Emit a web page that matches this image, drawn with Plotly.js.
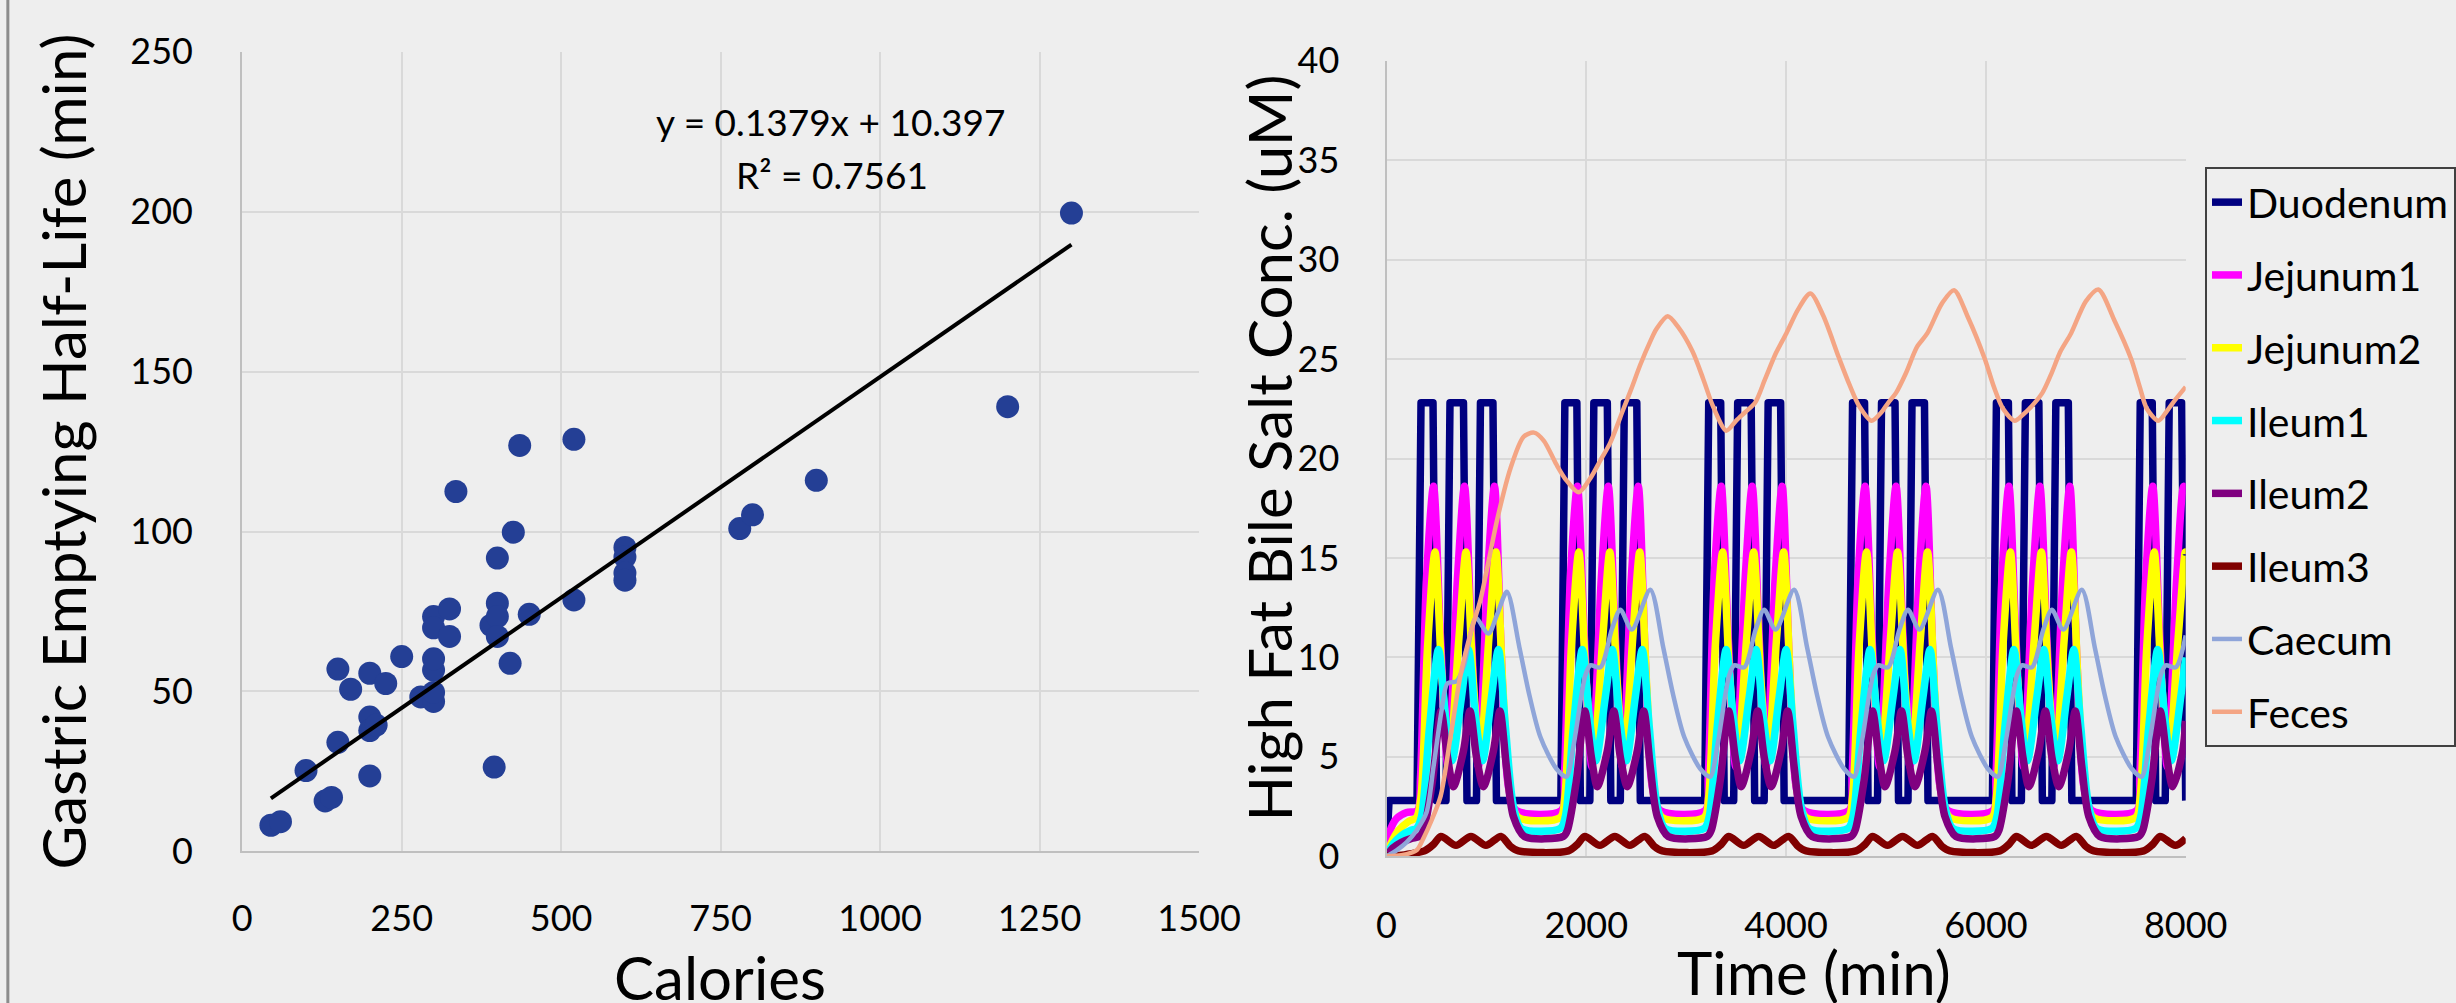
<!DOCTYPE html>
<html>
<head>
<meta charset="utf-8">
<script src="https://cdn.plot.ly/plotly-3.0.1.min.js"></script>
<style>
  html, body { margin: 0; padding: 0; background: #eeeeee; }
  #chart { width: 2456px; height: 1003px; }
  .js-line { stroke-linejoin: round !important; }
</style>
</head>
<body>
<div id="chart"></div>
<script>
// ---------------- Left chart: gastric emptying vs calories ----------------
const calories = [45, 60, 100, 130, 140, 150, 150, 170, 200, 225, 200, 200, 210, 200, 250, 280,
  300, 300, 300, 300, 300, 300, 325, 325, 335, 395, 390, 400, 400, 400, 400, 420, 425, 435, 450,
  520, 520, 600, 600, 600, 600, 780, 800, 900, 1200, 1300];
const halfLife = [8.2, 9.3, 25.3, 15.8, 16.9, 34.1, 57, 50.7, 55.7, 52.5, 42, 37.8, 39.5, 23.6, 60.9, 48.3,
  46.9, 49.7, 56.7, 60.2, 73.4, 69.9, 75.8, 67.2, 112.5, 26.4, 70.7, 77.6, 73.4, 67.2, 91.7, 58.8, 99.8, 126.9, 74.1,
  128.8, 78.6, 95, 92, 87, 84.8, 100.9, 105.2, 116, 139, 199.5];
const trendSlope = 0.1379;
const trendIntercept = 10.397;
const trendLabel = 'y = 0.1379x + 10.397';
const r2Label = 'R² = 0.7561';
const caloriesTicks = [0, 250, 500, 750, 1000, 1250, 1500];
const halfLifeTicks = [0, 50, 100, 150, 200, 250];
const leftXTitle = 'Calories';
const leftYTitle = 'Gastric Emptying Half-Life (min)';

// ---------------- Right chart: high fat bile salt concentration ----------------
const seriesNames = ['Duodenum', 'Jejunum1', 'Jejunum2', 'Ileum1', 'Ileum2', 'Ileum3', 'Caecum', 'Feces'];
const rightXTitle = 'Time (min)';
const rightYTitle = 'High Fat Bile Salt Conc. (uM)';

const duodenumT = [0, 25, 305, 345, 465, 500, 595, 635, 770, 805, 900, 940, 1065, 1100,
  1745, 1785, 1905, 1940, 2035, 2075, 2210, 2245, 2340, 2380, 2505, 2540,
  3185, 3225, 3345, 3380, 3475, 3515, 3650, 3685, 3780, 3820, 3945, 3980,
  4625, 4665, 4785, 4820, 4915, 4955, 5090, 5125, 5220, 5260, 5385, 5420,
  6065, 6105, 6225, 6260, 6355, 6395, 6530, 6565, 6660, 6700, 6825, 6860,
  7505, 7545, 7665, 7700, 7795, 7835, 7960, 7995, 8000];
const duodenumC = [0.3, 2.8, 2.8, 22.8, 22.8, 2.8, 2.8, 22.8, 22.8, 2.8, 2.8, 22.8, 22.8, 2.8,
  2.8, 22.8, 22.8, 2.8, 2.8, 22.8, 22.8, 2.8, 2.8, 22.8, 22.8, 2.8,
  2.8, 22.8, 22.8, 2.8, 2.8, 22.8, 22.8, 2.8, 2.8, 22.8, 22.8, 2.8,
  2.8, 22.8, 22.8, 2.8, 2.8, 22.8, 22.8, 2.8, 2.8, 22.8, 22.8, 2.8,
  2.8, 22.8, 22.8, 2.8, 2.8, 22.8, 22.8, 2.8, 2.8, 22.8, 22.8, 2.8,
  2.8, 22.8, 22.8, 2.8, 2.8, 22.8, 22.8, 2.8, 2.8];

const jejunum1T = [0, 30, 100, 200, 310, 340, 400, 470, 540, 615, 710, 780, 850, 920, 1010, 1080, 1150, 1220, 1300,
  1750, 1780, 1840, 1910, 1980, 2055, 2150, 2220, 2290, 2360, 2450, 2520, 2590, 2660, 2740,
  3190, 3220, 3280, 3350, 3420, 3495, 3590, 3660, 3730, 3800, 3890, 3960, 4030, 4100, 4180,
  4630, 4660, 4720, 4790, 4860, 4935, 5030, 5100, 5170, 5240, 5330, 5400, 5470, 5540, 5620,
  6070, 6100, 6160, 6230, 6300, 6375, 6470, 6540, 6610, 6680, 6770, 6840, 6910, 6980, 7060,
  7510, 7540, 7600, 7670, 7740, 7815, 7910, 7980, 8000];
const jejunum1C = [0, 1.2, 1.9, 2.2, 2.3, 4.0, 14.0, 18.6, 11.0, 4.5, 14.0, 18.6, 11.0, 4.5, 14.0, 18.6, 10.0, 3.5, 2.3,
  2.3, 4.0, 14.0, 18.6, 11.0, 4.5, 14.0, 18.6, 11.0, 4.5, 14.0, 18.6, 10.0, 3.5, 2.3,
  2.3, 4.0, 14.0, 18.6, 11.0, 4.5, 14.0, 18.6, 11.0, 4.5, 14.0, 18.6, 10.0, 3.5, 2.3,
  2.3, 4.0, 14.0, 18.6, 11.0, 4.5, 14.0, 18.6, 11.0, 4.5, 14.0, 18.6, 10.0, 3.5, 2.3,
  2.3, 4.0, 14.0, 18.6, 11.0, 4.5, 14.0, 18.6, 11.0, 4.5, 14.0, 18.6, 10.0, 3.5, 2.3,
  2.3, 4.0, 14.0, 18.6, 11.0, 4.5, 14.0, 18.6, 18.4];

const jejunum2T = [0, 40, 120, 220, 300, 345, 410, 485, 555, 630, 725, 795, 865, 935, 1025, 1095, 1165, 1240, 1320,
  1740, 1785, 1850, 1925, 1995, 2070, 2165, 2235, 2305, 2375, 2465, 2535, 2605, 2680, 2760,
  3180, 3225, 3290, 3365, 3435, 3510, 3605, 3675, 3745, 3815, 3905, 3975, 4045, 4120, 4200,
  4620, 4665, 4730, 4805, 4875, 4950, 5045, 5115, 5185, 5255, 5345, 5415, 5485, 5560, 5640,
  6060, 6105, 6170, 6245, 6315, 6390, 6485, 6555, 6625, 6695, 6785, 6855, 6925, 7000, 7080,
  7500, 7545, 7610, 7685, 7755, 7830, 7925, 7995, 8000];
const jejunum2C = [0, 0.6, 1.3, 1.75, 1.95, 3.0, 10.5, 15.3, 9.0, 5.0, 11.0, 15.3, 9.0, 5.0, 11.0, 15.3, 8.5, 3.0, 1.95,
  1.95, 3.0, 10.5, 15.3, 9.0, 5.0, 11.0, 15.3, 9.0, 5.0, 11.0, 15.3, 8.5, 3.0, 1.95,
  1.95, 3.0, 10.5, 15.3, 9.0, 5.0, 11.0, 15.3, 9.0, 5.0, 11.0, 15.3, 8.5, 3.0, 1.95,
  1.95, 3.0, 10.5, 15.3, 9.0, 5.0, 11.0, 15.3, 9.0, 5.0, 11.0, 15.3, 8.5, 3.0, 1.95,
  1.95, 3.0, 10.5, 15.3, 9.0, 5.0, 11.0, 15.3, 9.0, 5.0, 11.0, 15.3, 8.5, 3.0, 1.95,
  1.95, 3.0, 10.5, 15.3, 9.0, 5.0, 11.0, 15.3, 15.2];

const ileum1T = [0, 60, 150, 240, 300, 350, 430, 520, 590, 655, 750, 820, 890, 960, 1050, 1120, 1190, 1270, 1350,
  1740, 1790, 1870, 1960, 2030, 2095, 2190, 2260, 2330, 2400, 2490, 2560, 2630, 2710, 2790,
  3180, 3230, 3310, 3400, 3470, 3535, 3630, 3700, 3770, 3840, 3930, 4000, 4070, 4150, 4230,
  4620, 4670, 4750, 4840, 4910, 4975, 5070, 5140, 5210, 5280, 5370, 5440, 5510, 5590, 5670,
  6060, 6110, 6190, 6280, 6350, 6415, 6510, 6580, 6650, 6720, 6810, 6880, 6950, 7030, 7110,
  7500, 7550, 7630, 7720, 7790, 7855, 7950, 8000];
const ileum1C = [0, 0.6, 1.05, 1.3, 1.4, 2.0, 6.5, 10.4, 7.0, 4.8, 8.0, 10.4, 7.0, 4.8, 8.0, 10.4, 6.5, 2.5, 1.4,
  1.4, 2.0, 6.5, 10.4, 7.0, 4.8, 8.0, 10.4, 7.0, 4.8, 8.0, 10.4, 6.5, 2.5, 1.4,
  1.4, 2.0, 6.5, 10.4, 7.0, 4.8, 8.0, 10.4, 7.0, 4.8, 8.0, 10.4, 6.5, 2.5, 1.4,
  1.4, 2.0, 6.5, 10.4, 7.0, 4.8, 8.0, 10.4, 7.0, 4.8, 8.0, 10.4, 6.5, 2.5, 1.4,
  1.4, 2.0, 6.5, 10.4, 7.0, 4.8, 8.0, 10.4, 7.0, 4.8, 8.0, 10.4, 6.5, 2.5, 1.4,
  1.4, 2.0, 6.5, 10.4, 7.0, 4.8, 8.0, 10.0];

const ileum2T = [0, 60, 150, 250, 330, 370, 460, 545, 610, 670, 770, 835, 900, 970, 1070, 1135, 1200, 1270, 1380,
  1770, 1810, 1900, 1985, 2050, 2110, 2210, 2275, 2340, 2410, 2510, 2575, 2640, 2710, 2820,
  3210, 3250, 3340, 3425, 3490, 3550, 3650, 3715, 3780, 3850, 3950, 4015, 4080, 4150, 4260,
  4650, 4690, 4780, 4865, 4930, 4990, 5090, 5155, 5220, 5290, 5390, 5455, 5520, 5590, 5700,
  6090, 6130, 6220, 6305, 6370, 6430, 6530, 6595, 6660, 6730, 6830, 6895, 6960, 7030, 7140,
  7530, 7570, 7660, 7745, 7810, 7870, 7970, 8000];
const ileum2C = [0, 0.4, 0.7, 0.9, 1.0, 1.3, 3.8, 7.3, 5.0, 3.5, 5.3, 7.3, 5.0, 3.5, 5.3, 7.3, 4.5, 2.0, 1.0,
  1.0, 1.3, 3.8, 7.3, 5.0, 3.5, 5.3, 7.3, 5.0, 3.5, 5.3, 7.3, 4.5, 2.0, 1.0,
  1.0, 1.3, 3.8, 7.3, 5.0, 3.5, 5.3, 7.3, 5.0, 3.5, 5.3, 7.3, 4.5, 2.0, 1.0,
  1.0, 1.3, 3.8, 7.3, 5.0, 3.5, 5.3, 7.3, 5.0, 3.5, 5.3, 7.3, 4.5, 2.0, 1.0,
  1.0, 1.3, 3.8, 7.3, 5.0, 3.5, 5.3, 7.3, 5.0, 3.5, 5.3, 7.3, 4.5, 2.0, 1.0,
  1.0, 1.3, 3.8, 7.3, 5.0, 3.5, 5.3, 6.8];

const ileum3T = [0, 150, 300, 380, 470, 545, 695, 845, 995, 1145, 1240, 1320,
  1820, 1910, 1985, 2135, 2285, 2435, 2585, 2680, 2760,
  3260, 3350, 3425, 3575, 3725, 3875, 4025, 4120, 4200,
  4700, 4790, 4865, 5015, 5165, 5315, 5465, 5560, 5640,
  6140, 6230, 6305, 6455, 6605, 6755, 6905, 7000, 7080,
  7580, 7670, 7745, 7895, 8000];
const ileum3C = [0, 0.05, 0.18, 0.27, 0.6, 1.0, 0.55, 1.0, 0.55, 1.0, 0.5, 0.27,
  0.27, 0.6, 1.0, 0.55, 1.0, 0.55, 1.0, 0.5, 0.27,
  0.27, 0.6, 1.0, 0.55, 1.0, 0.55, 1.0, 0.5, 0.27,
  0.27, 0.6, 1.0, 0.55, 1.0, 0.55, 1.0, 0.5, 0.27,
  0.27, 0.6, 1.0, 0.55, 1.0, 0.55, 1.0, 0.5, 0.27,
  0.27, 0.6, 1.0, 0.55, 0.9];

const caecumT = [0, 100, 200, 300, 400, 470, 550, 610, 700, 775, 860, 895, 1020, 1110, 1205, 1330, 1430, 1540, 1700,
  1800, 1873, 1990, 2040, 2140, 2255, 2340, 2455, 2640, 2770, 2870, 2980, 3140,
  3240, 3313, 3430, 3480, 3580, 3695, 3780, 3895, 4080, 4210, 4310, 4420, 4580,
  4680, 4753, 4870, 4920, 5020, 5135, 5220, 5335, 5520, 5650, 5750, 5860, 6020,
  6120, 6193, 6310, 6360, 6460, 6575, 6660, 6775, 6960, 7090, 7190, 7300, 7460,
  7560, 7633, 7750, 7800, 7900, 8000];
const caecumC = [0, 0.3, 0.7, 1.3, 2.2, 4.5, 7.3, 8.7, 8.8, 9.6, 11.6, 12.0, 11.2, 12.2, 13.3, 10.5, 8.1, 6.0, 4.4,
  4.0, 5.6, 9.1, 9.6, 9.5, 11.4, 12.4, 11.4, 13.4, 10.5, 8.1, 6.0, 4.4,
  4.0, 5.6, 9.1, 9.6, 9.5, 11.4, 12.4, 11.4, 13.4, 10.5, 8.1, 6.0, 4.4,
  4.0, 5.6, 9.1, 9.6, 9.5, 11.4, 12.4, 11.4, 13.4, 10.5, 8.1, 6.0, 4.4,
  4.0, 5.6, 9.1, 9.6, 9.5, 11.4, 12.4, 11.4, 13.4, 10.5, 8.1, 6.0, 4.4,
  4.0, 5.6, 9.1, 9.6, 9.5, 11.1];

const fecesT = [0, 150, 300, 373, 450, 540, 640, 740, 840, 940, 1020, 1106, 1240, 1373, 1476, 1573, 1700, 1800,
  1923, 2039, 2140, 2240, 2372, 2450, 2539, 2641, 2700, 2815, 2920, 3061, 3170, 3270, 3401, 3500, 3584, 3689,
  3790, 3898, 4003, 4120, 4243, 4370, 4526, 4635, 4735, 4855, 4950, 5022, 5100, 5200, 5309, 5414, 5560, 5681,
  5820, 5989, 6080, 6172, 6288, 6370, 6434, 6565, 6650, 6748, 6853, 7000, 7125, 7290, 7454, 7540, 7611, 7726,
  7800, 7872, 8000];
const fecesC = [0, 0.05, 0.3, 0.95, 1.8, 3.0, 6.0, 9.1, 11.2, 12.9, 14.8, 16.9, 19.5, 21.1, 21.3, 20.9, 19.7, 18.9,
  18.3, 19.0, 19.9, 20.8, 22.5, 23.5, 24.7, 25.9, 26.5, 27.15, 26.6, 25.4, 24.0, 22.6, 21.4, 21.9, 22.3, 22.8,
  24.0, 25.3, 26.3, 27.5, 28.3, 27.2, 25.1, 23.7, 22.6, 21.9, 22.3, 22.8, 23.3, 24.3, 25.6, 26.3, 27.8, 28.46,
  27.1, 25.0, 23.6, 22.5, 21.9, 22.2, 22.5, 23.3, 24.2, 25.4, 26.3, 27.9, 28.5, 26.9, 25.0, 23.6, 22.5, 21.9,
  22.3, 22.8, 23.6];

const timeTicks = [0, 2000, 4000, 6000, 8000];
const concTicks = [0, 5, 10, 15, 20, 25, 30, 35, 40];

// ---------------- Styling ----------------
const FONT = 'Lato, "Open Sans", "DejaVu Sans", sans-serif';
const BG = '#eeeeee';
const GRID = '#d9d9d9';
const AXLINE = '#bfbfbf';

const seriesStyle = [
  {t: duodenumT, c: duodenumC, color: '#000080', width: 7.5, shape: 'linear'},
  {t: jejunum1T, c: jejunum1C, color: '#ff00ff', width: 7.5, shape: 'spline'},
  {t: jejunum2T, c: jejunum2C, color: '#ffff00', width: 7.5, shape: 'spline'},
  {t: ileum1T, c: ileum1C, color: '#00ffff', width: 7.5, shape: 'spline'},
  {t: ileum2T, c: ileum2C, color: '#800080', width: 7.5, shape: 'spline'},
  {t: ileum3T, c: ileum3C, color: '#800000', width: 7.5, shape: 'spline'},
  {t: caecumT, c: caecumC, color: '#8fa5d9', width: 4.5, shape: 'spline'},
  {t: fecesT, c: fecesC, color: '#f4a584', width: 4.5, shape: 'spline'}
];

const traces = [];

traces.push({
  type: 'scatter', mode: 'markers', x: calories, y: halfLife,
  xaxis: 'x', yaxis: 'y', showlegend: false, hoverinfo: 'x+y',
  marker: {color: '#243f95', size: 23, line: {width: 0}}
});

const tx = [Math.min(...calories), Math.max(...calories)];
traces.push({
  type: 'scatter', mode: 'lines', x: tx, y: tx.map(v => trendSlope * v + trendIntercept),
  xaxis: 'x', yaxis: 'y', showlegend: false, hoverinfo: 'skip',
  line: {color: '#000000', width: 4}
});

seriesNames.forEach((name, i) => {
  const s = seriesStyle[i];
  traces.push({
    type: 'scatter', mode: 'lines', name: name, x: s.t, y: s.c,
    xaxis: 'x2', yaxis: 'y2', legendgroup: 'g' + i,
    line: {color: s.color, width: s.width, shape: s.shape, smoothing: 0.8}
  });
});

function axisBase(extra) {
  return Object.assign({
    showgrid: true, gridcolor: GRID, gridwidth: 2,
    zeroline: false, showline: true, linecolor: AXLINE, linewidth: 2,
    ticks: '', tickfont: {family: FONT, size: 36, color: '#000'},
    fixedrange: true
  }, extra);
}

const TITLE_FONT = {family: FONT, size: 60, color: '#000'};

const layout = {
  width: 2456, height: 1003,
  margin: {l: 0, r: 0, t: 0, b: 0},
  paper_bgcolor: BG, plot_bgcolor: BG,
  font: {family: FONT, color: '#000', size: 36},
  xaxis: axisBase({
    domain: [0.0987, 0.4886], range: [0, 1500], tickvals: caloriesTicks, anchor: 'y',
    ticklabelstandoff: 34
  }),
  yaxis: axisBase({
    domain: [0.15105, 0.94865], range: [0, 250], tickvals: halfLifeTicks, anchor: 'x',
    ticklabelstandoff: 40,
    title: {text: leftYTitle, font: TITLE_FONT, standoff: 24}
  }),
  xaxis2: axisBase({
    domain: [0.56502, 0.89067], range: [0, 8000], tickvals: timeTicks, anchor: 'y2',
    ticklabelstandoff: 36
  }),
  yaxis2: axisBase({
    domain: [0.14626, 0.93948], range: [0, 40], tickvals: concTicks, anchor: 'x2',
    ticklabelstandoff: 38
  }),
  legend: {
    x: 0.8986, y: 0.8335, xanchor: 'left', yanchor: 'top',
    bgcolor: 'rgba(0,0,0,0)', bordercolor: '#404040', borderwidth: 2,
    font: {family: FONT, size: 41, color: '#000'},
    tracegroupgap: 16.5, itemwidth: 30, traceorder: 'grouped'
  },
  annotations: [
    {xref: 'x', yref: 'y', x: 923, y: 228, text: trendLabel, showarrow: false,
     font: {family: FONT, size: 37, color: '#000'}},
    {xref: 'x', yref: 'y', x: 925, y: 211.5, text: r2Label, showarrow: false,
     font: {family: FONT, size: 37, color: '#000'}},
    // axis titles placed as in the reference (partly running off the bottom edge)
    {xref: 'paper', yref: 'paper', x: 0.2936, y: 0.0259, xanchor: 'center', yanchor: 'middle',
     text: leftXTitle, showarrow: false, font: TITLE_FONT},
    {xref: 'paper', yref: 'paper', x: 0.739, y: 0.0309, xanchor: 'center', yanchor: 'middle',
     text: rightXTitle, showarrow: false, font: TITLE_FONT},
    {xref: 'paper', yref: 'paper', x: 0.5171, y: 0.5538, xanchor: 'center', yanchor: 'middle',
     text: rightYTitle, textangle: -90, showarrow: false, font: TITLE_FONT}
  ],
  shapes: [
    {type: 'line', xref: 'paper', yref: 'paper', x0: 0.0032, x1: 0.0032, y0: 0, y1: 1,
     line: {color: '#8c8c8c', width: 3}}
  ]
};

Plotly.newPlot('chart', traces, layout, {displayModeBar: false, responsive: false});
</script>
</body>
</html>
